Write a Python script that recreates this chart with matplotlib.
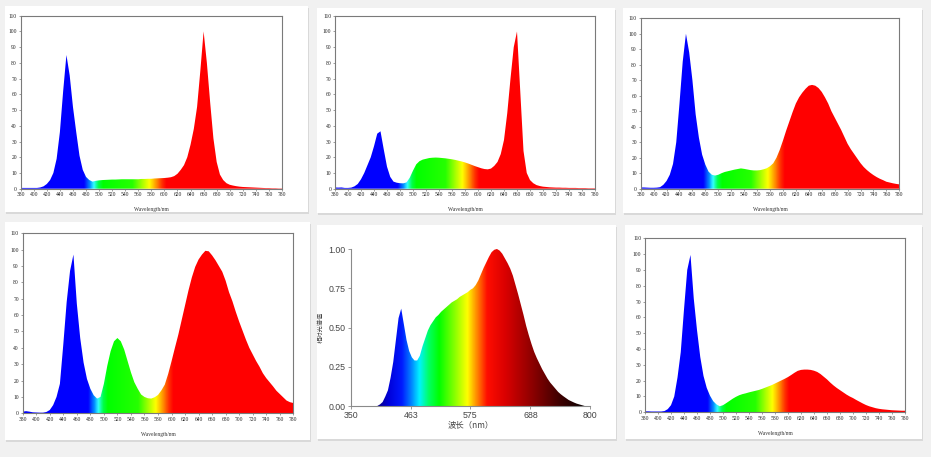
import matplotlib
matplotlib.use("Agg")
import matplotlib.pyplot as plt
import numpy as np
from matplotlib.colors import LinearSegmentedColormap
from matplotlib.patches import Rectangle

# wavelength grid (nm) used by the five "Wavelength/nm" panels
wl = np.arange(380, 785, 5)

# relative intensity, 380..780 nm every 5 nm
spec_a = [0.5, 0.5, 0.5, 0.5, 0.5, 0.5, 0.8, 1.5, 3, 5.5,
          10, 19, 36, 62, 85, 72, 52, 36, 21, 12,
          7.5, 5.5, 4.5, 5, 5.3, 5.5, 5.6, 5.7, 5.8, 5.8,
          5.9, 6, 6, 6, 6, 6, 6, 6.2, 6.2, 6.3,
          6.3, 6.5, 6.6, 6.7, 6.8, 7, 7.3, 8, 9.5, 12,
          15, 20, 28, 38, 52, 75, 100, 80, 55, 32,
          17, 9, 5.5, 3.5, 2.5, 2, 1.6, 1.3, 1.1, 1,
          0.9, 0.8, 0.7, 0.6, 0.5, 0.4, 0.4, 0.3, 0.3, 0.2,
          0.2]
spec_b = [0.8, 0.7, 0.8, 0.5, 0.5, 0.7, 1.5, 3, 6, 10,
          15, 20, 27, 35, 36.5, 25, 14, 7.5, 4.5, 3.8,
          3.5, 3.4, 4, 7, 11.5, 15.5, 17.5, 18.5, 19, 19.5,
          19.7, 19.8, 19.7, 19.5, 19.3, 19, 18.7, 18.3, 17.8, 17.3,
          16.7, 16, 15.2, 14.4, 13.7, 13, 12.5, 12.3, 12.8, 14.5,
          17, 22, 31, 48, 70, 90, 100, 62, 24, 10,
          5.5, 3.5, 2.3, 1.7, 1.3, 1.1, 0.9, 0.8, 0.7, 0.7,
          0.6, 0.6, 0.5, 0.5, 0.5, 0.4, 0.4, 0.4, 0.3, 0.3,
          0.3]
spec_c = [0.8, 0.8, 0.7, 0.6, 0.6, 0.7, 1, 2.5, 5, 9,
          16, 30, 55, 82, 100, 88, 70, 48, 33, 22,
          15.5, 11, 9, 8.5, 9, 10, 10.8, 11.3, 11.8, 12.3,
          12.7, 13.1, 12.8, 12.4, 12, 11.8, 11.8, 12, 12.5, 13.2,
          14.5, 16.4, 20, 25, 31, 37.5, 43.5, 49.5, 55, 59,
          62, 64.5, 66.5, 67, 66.5, 65, 62.5, 59, 55, 50,
          46, 42, 38, 33.5, 29, 25.5, 22.5, 19.5, 16.5, 14,
          12, 10.3, 8.8, 7.5, 6.4, 5.5, 4.5, 4, 3.5, 3.1,
          2.8]
spec_d = [1, 1.3, 1, 0.6, 0.5, 0.4, 0.4, 0.8, 2, 5,
          10, 18, 42, 68, 87, 97, 67, 46, 31, 21,
          15, 11, 9, 10, 18, 29, 38, 44, 46, 44,
          39, 32, 25, 19, 15, 11.5, 10, 9.2, 9, 9.8,
          11.2, 14, 17.5, 24, 31.8, 40, 48, 57, 66, 75,
          83, 89.5, 94, 97, 99.3, 99, 96.5, 93.5, 90, 86.5,
          81, 74, 68.5, 62, 56, 50.5, 45, 40, 36, 32,
          28.5, 24.5, 21.5, 19, 16.5, 13.8, 11.8, 9.8, 7.8, 6.8,
          6.3]
spec_f = [0.6, 0.6, 0.5, 0.5, 0.5, 0.5, 0.8, 2, 4.5, 10,
          22, 38, 65, 90, 99.5, 72, 52, 35, 23, 15.4,
          10.5, 7, 5, 3.8, 4.5, 5.8, 7.2, 8.6, 9.8, 10.8,
          11.5, 12, 12.6, 13.1, 13.6, 14.1, 14.8, 15.6, 16.4, 17.2,
          18.2, 19.2, 20.2, 21.2, 22.3, 23.6, 25, 26.2, 26.8, 27,
          27, 26.8, 26.3, 25.5, 24.2, 22.5, 20.8, 18.8, 17, 15.4,
          14, 12.6, 11.2, 10, 9, 7.8, 6.7, 5.6, 4.6, 3.8,
          3.2, 2.6, 2.2, 1.9, 1.7, 1.5, 1.3, 1.2, 1.1, 1,
          1]

# the full-spectrum panel (normalised, 395..790 nm every 5 nm)
wl_e = np.arange(395, 795, 5)
spec_e = [0, 0, 0.01, 0.025, 0.06, 0.1, 0.18, 0.28, 0.42, 0.56,
          0.62, 0.52, 0.42, 0.35, 0.31, 0.29, 0.29, 0.32, 0.38, 0.43,
          0.48, 0.515, 0.54, 0.565, 0.58, 0.6, 0.615, 0.63, 0.645, 0.66,
          0.67, 0.68, 0.695, 0.705, 0.715, 0.725, 0.74, 0.75, 0.77, 0.8,
          0.84, 0.88, 0.915, 0.95, 0.98, 0.995, 1.0, 0.99, 0.97, 0.94,
          0.91, 0.875, 0.83, 0.77, 0.71, 0.645, 0.58, 0.51, 0.45, 0.395,
          0.345, 0.305, 0.27, 0.235, 0.205, 0.175, 0.15, 0.13, 0.11, 0.09,
          0.075, 0.062, 0.05, 0.038, 0.03, 0.022, 0.015, 0.01, 0.005, 0]

x_ticks = list(range(380, 781, 20))
y_ticks = list(range(0, 111, 10))
e_xticks = [350, 463, 575, 688, 800]
e_yticks = [0.0, 0.25, 0.5, 0.75, 1.0]

W, H = 931, 457


def stops_cmap(stops, lo, hi):
    return LinearSegmentedColormap.from_list(
        "s", [((nm - lo) / (hi - lo), c) for nm, c in stops], N=512)


rainbow = stops_cmap([(380, (0.0, 0.0, 1.0)), (476, (0.0, 0.0, 1.0)),
                      (485, (0.0, 0.55, 1.0)), (491, (0.2, 1.0, 1.0)),
                      (498, (0.0, 1.0, 0.3)), (505, (0.0, 1.0, 0.0)),
                      (550, (0.15, 1.0, 0.0)), (562, (0.55, 1.0, 0.0)),
                      (576, (1.0, 1.0, 0.0)), (586, (1.0, 0.6, 0.0)),
                      (595, (1.0, 0.2, 0.0)), (602, (1.0, 0.0, 0.0)),
                      (780, (1.0, 0.0, 0.0))], 380, 780)

full = stops_cmap([(395, (0.05, 0.0, 0.45)), (420, (0.0, 0.0, 0.85)),
                   (445, (0.0, 0.1, 1.0)), (462, (0.0, 0.5, 1.0)),
                   (478, (0.0, 0.95, 1.0)), (495, (0.0, 1.0, 0.4)),
                   (515, (0.0, 1.0, 0.0)), (545, (0.55, 1.0, 0.0)),
                   (568, (1.0, 1.0, 0.0)), (585, (1.0, 0.55, 0.0)),
                   (605, (1.0, 0.05, 0.0)), (640, (0.85, 0.0, 0.0)),
                   (690, (0.55, 0.0, 0.0)), (740, (0.25, 0.0, 0.0)),
                   (790, (0.02, 0.0, 0.0))], 395, 790)


def px_axes(x0, y0, x1, y1):
    return fig.add_axes([x0 / W, 1 - y1 / H, (x1 - x0) / W, (y1 - y0) / H])


def fill_spectrum(ax, x, y, cmap, lo, hi, top):
    poly, = ax.fill(np.r_[x[0], x, x[-1]], np.r_[0, y, 0],
                    facecolor="none", edgecolor="none")
    grad = np.linspace(lo, hi, 800)[None, :]
    im = ax.imshow(grad, cmap=cmap, extent=(lo, hi, 0, top), aspect="auto",
                   origin="lower", interpolation="bilinear")
    im.set_clip_path(poly)


def wavelength_panel(rect, y):
    ax = px_axes(*rect)
    fill_spectrum(ax, wl, y, rainbow, 380, 780, 110)
    ax.set_xlim(380, 780)
    ax.set_ylim(0, 110)
    ax.set_xticks(x_ticks)
    ax.set_xticklabels([str(t) for t in x_ticks])
    ax.set_yticks(y_ticks)
    ax.set_yticklabels([str(t) for t in y_ticks])
    for lab in ax.get_xticklabels() + ax.get_yticklabels():
        lab.set_family("Liberation Serif")
        lab.set_fontsize(4)
        lab.set_color("#222222")
    ax.tick_params(length=1.2, width=0.4, pad=1.5, color="#555555")
    for s in ax.spines.values():
        s.set_color("#7a7a7a")
        s.set_linewidth(0.8)
    ax.set_xlabel("Wavelength/nm", family="Liberation Serif", fontsize=4,
                  color="#333333", labelpad=7)
    return ax


fig = plt.figure(figsize=(W / 100, H / 100), dpi=100, facecolor="#f1f1f1")

# card backgrounds
bg = fig.add_axes([0, 0, 1, 1])
bg.set_xlim(0, W)
bg.set_ylim(H, 0)
bg.axis("off")
cards = [(5, 6, 308, 212), (317, 8, 615, 213), (623, 8, 922, 213),
         (5, 222, 310, 440), (317, 225, 616, 439), (625, 225, 922, 439)]
for x0, y0, x1, y1 in cards:
    bg.add_patch(Rectangle((x0 + 1, y0 + 2), x1 - x0, y1 - y0,
                           facecolor="#d9d9d9", edgecolor="none"))
    bg.add_patch(Rectangle((x0, y0), x1 - x0, y1 - y0,
                           facecolor="white", edgecolor="none"))

wavelength_panel((20.7, 15.7, 282, 188.7), spec_a)
wavelength_panel((335, 15.7, 595, 188.7), spec_b)
wavelength_panel((640.7, 18.3, 899.3, 188.7), spec_c)
wavelength_panel((22.7, 233.3, 293.3, 413.3), spec_d)
wavelength_panel((645, 238.3, 905, 412.3), spec_f)

# full spectrum panel
ax = px_axes(350.7, 249, 590, 406)
fill_spectrum(ax, wl_e, spec_e, full, 395, 790, 1.0)
ax.set_xlim(350, 800)
ax.set_ylim(0, 1.0)
ax.set_xticks(e_xticks)
ax.set_xticklabels([str(t) for t in e_xticks])
ax.set_yticks(e_yticks)
ax.set_yticklabels(["%.2f" % t for t in e_yticks])
for lab in ax.get_xticklabels() + ax.get_yticklabels():
    lab.set_family("Liberation Sans")
    lab.set_fontsize(6.3)
    lab.set_color("#444444")
ax.tick_params(length=2, width=0.6, pad=1.5, color="#888888")
ax.spines["top"].set_visible(False)
ax.spines["right"].set_visible(False)
for s in ("left", "bottom"):
    ax.spines[s].set_color("#8a8a8a")
    ax.spines[s].set_linewidth(0.8)
cjk = ["Noto Sans CJK SC", "DejaVu Sans"]
ax.set_xlabel("波长（nm）", family=cjk, fontsize=6, color="#444444", labelpad=0)
ax.set_ylabel("相对光谱值", family=cjk, fontsize=4.5, color="#444444", labelpad=3)

fig.savefig("out.png", dpi=100, facecolor=fig.get_facecolor())
